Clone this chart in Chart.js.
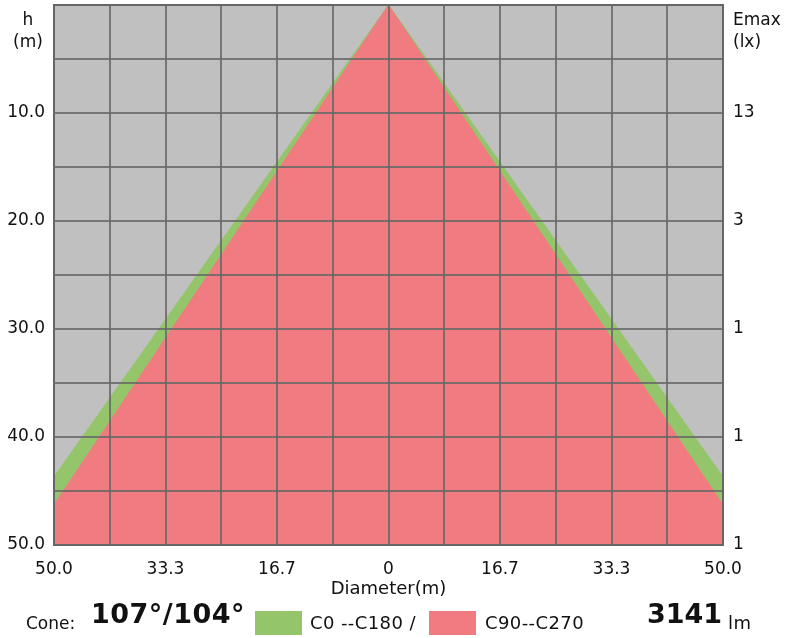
<!DOCTYPE html>
<html>
<head>
<meta charset="utf-8">
<script src="https://cdn.jsdelivr.net/npm/chart.js@4/dist/chart.umd.min.js"></script>
<style>
  body { margin: 0; background: #fff; font-family: 'DejaVu Sans', Verdana, sans-serif; }
  #wrap { position: relative; width: 786px; height: 638px; }
  .lbl { position: absolute; font-size: 17px; color: #111; line-height: 22px; }
  .leg { font-size: 18px; letter-spacing: 0.4px; }
  .big { font-weight: bold; font-size: 27px; }
  .box { position: absolute; width: 47px; height: 24px; }
</style>
</head>
<body>
<div id="wrap">
  <canvas id="myChart" width="786" height="638"></canvas>
  <div class="lbl" style="left:8px;top:8px;text-align:center;width:40px">h<br>(m)</div>
  <div class="lbl" style="left:733px;top:8px">Emax<br>(lx)</div>
  <div class="lbl" style="left:26px;top:612px">Cone:</div>
  <div class="lbl big" style="left:91px;top:603px;letter-spacing:0.5px">107°/104°</div>
  <div class="box" style="left:255px;top:611px;background:#94c56a"></div>
  <div class="lbl leg" style="left:310px;top:612px">C0 --C180 /</div>
  <div class="box" style="left:429px;top:611px;background:#f07c82"></div>
  <div class="lbl leg" style="left:485px;top:612px">C90--C270</div>
  <div class="lbl big" style="left:647px;top:603px">3141</div>
  <div class="lbl leg" style="left:728px;top:612px">lm</div>
</div>
<script>
// cone outlines: diameter (x) vs height (y)
const greenX = [-50, 0, 50];
const greenH = [43.7, 0, 43.7];
const redX = [-50, 0, 50];
const redH = [46.3, 0, 46.3];

// right axis labels (Emax) at heights 10..50
const emaxHeights = [10, 20, 30, 40, 50];
const emaxLabels = ['13', '3', '1', '1', '1'];

// x tick labels every second grid line
const xTickLabels = ['50.0', '33.3', '16.7', '0', '16.7', '33.3', '50.0'];

function toPoints(xs, ys) {
    return xs.map((x, i) => ({ x: x, y: ys[i] }));
}

const bgPlugin = {
    id: 'bg',
    beforeDraw(chart) {
        const a = chart.chartArea;
        const c = chart.ctx;
        c.save();
        c.fillStyle = '#c0c0c0';
        c.fillRect(a.left, a.top, a.right - a.left, a.bottom - a.top);
        c.restore();
    },
    afterDraw(chart) {
        const a = chart.chartArea;
        const c = chart.ctx;
        c.save();
        c.strokeStyle = '#666';
        c.lineWidth = 2;
        c.strokeRect(a.left, a.top, a.right - a.left, a.bottom - a.top);
        c.restore();
    }
};

const gridColor = 'rgba(105,105,105,0.85)';
const tickFont = { family: "'DejaVu Sans', Verdana, sans-serif", size: 17 };

new Chart(document.getElementById('myChart'), {
    type: 'line',
    data: {
        datasets: [{
            data: toPoints(redX, redH),
            backgroundColor: '#f07c82',
            borderColor: '#f07c82',
            borderWidth: 1,
            pointRadius: 0,
            order: 1,
            fill: { value: 50 }
        }, {
            data: toPoints(greenX, greenH),
            backgroundColor: '#94c56a',
            borderColor: '#94c56a',
            borderWidth: 1,
            pointRadius: 0,
            order: 2,
            fill: { value: 50 }
        }]
    },
    options: {
        responsive: false,
        animation: false,
        layout: { padding: { top: 5, bottom: 38 } },
        plugins: {
            legend: { display: false },
            tooltip: { enabled: false }
        },
        scales: {
            x: {
                type: 'linear',
                min: -50,
                max: 50,
                afterBuildTicks(scale) {
                    const t = [];
                    for (let i = 0; i <= 12; i++) t.push({ value: -50 + i * 100 / 12 });
                    scale.ticks = t;
                },
                afterFit(scale) { scale.height = 55; },
                ticks: {
                    color: '#111',
                    font: tickFont,
                    autoSkip: false,
                    maxRotation: 0,
                    padding: 14,
                    callback: (v, i) => (i % 2 === 0 ? xTickLabels[i / 2] : '')
                },
                grid: { color: gridColor, lineWidth: 2, drawTicks: false, z: 1 },
                border: { display: false },
                title: {
                    display: true,
                    text: 'Diameter(m)',
                    color: '#111',
                    font: { family: "'DejaVu Sans', Verdana, sans-serif", size: 18 },
                    padding: { top: 0, bottom: 0 }
                }
            },
            y: {
                type: 'linear',
                reverse: true,
                min: 0,
                max: 50,
                afterFit(scale) {
                    scale.width = 54;
                    scale.paddingTop = 0;
                    scale.paddingBottom = 0;
                },
                ticks: {
                    stepSize: 5,
                    color: '#111',
                    font: tickFont,
                    padding: 9,
                    callback: v => (v > 0 && v % 10 === 0 ? v.toFixed(1) : '')
                },
                grid: { color: gridColor, lineWidth: 2, drawTicks: false, z: 1 },
                border: { display: false }
            },
            y2: {
                type: 'linear',
                position: 'right',
                reverse: true,
                min: 0,
                max: 50,
                afterFit(scale) {
                    scale.width = 63;
                    scale.paddingTop = 0;
                    scale.paddingBottom = 0;
                },
                ticks: {
                    stepSize: 10,
                    color: '#111',
                    font: tickFont,
                    padding: 10,
                    callback: v => {
                        const k = emaxHeights.indexOf(v);
                        return k >= 0 ? emaxLabels[k] : '';
                    }
                },
                grid: { display: false, drawTicks: false },
                border: { display: false }
            }
        }
    },
    plugins: [bgPlugin]
});
</script>
</body>
</html>
